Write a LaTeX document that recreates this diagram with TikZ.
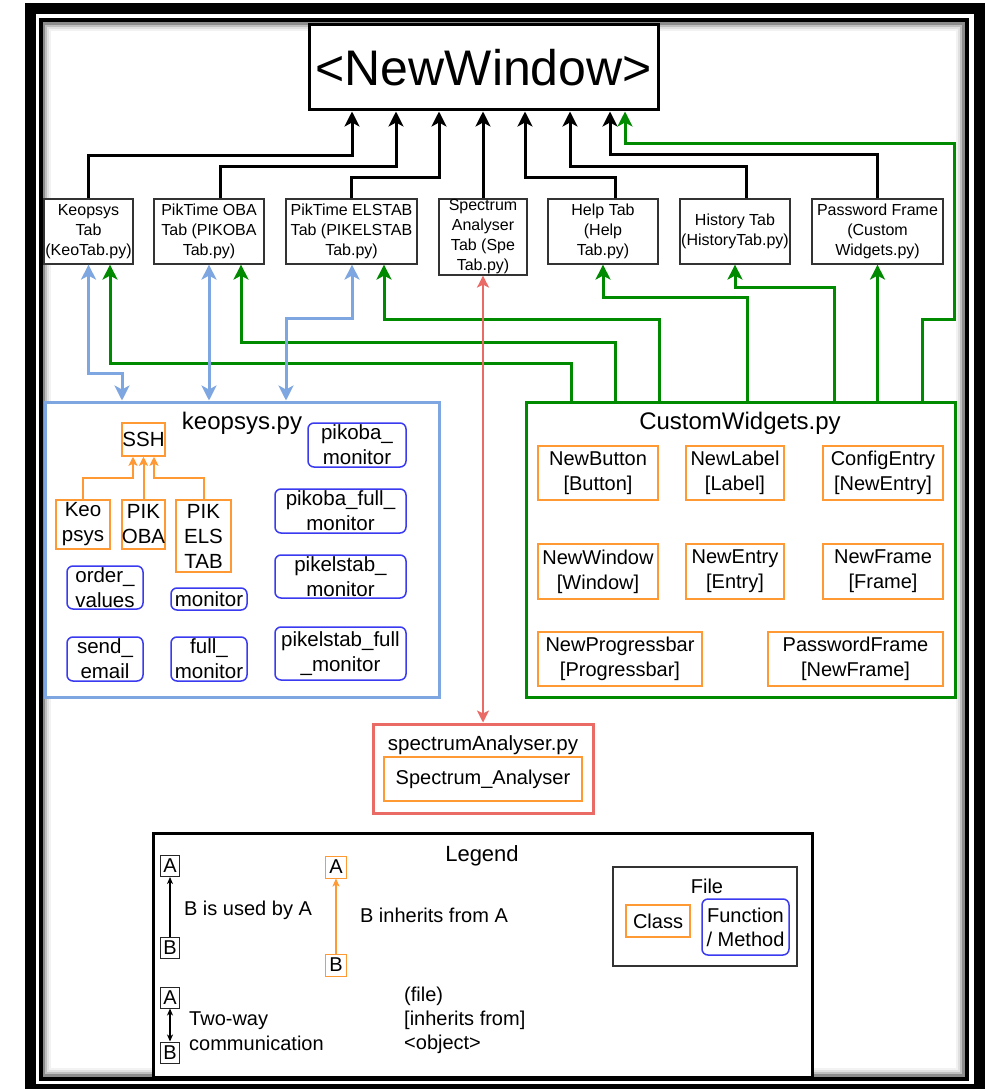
\documentclass[tikz,border=0pt]{standalone}
\usepackage{fontspec}
\setmainfont{Liberation Sans}
\usetikzlibrary{arrows.meta}
\definecolor{grnc}{HTML}{008A00}
\definecolor{bluc}{HTML}{7EA6E0}
\definecolor{redc}{HTML}{EA6B66}
\definecolor{orgc}{HTML}{FF9933}
\definecolor{fnc}{HTML}{3A3AF0}
\begin{document}
\begin{tikzpicture}[x=1pt,y=-1pt,
  tab/.style={draw=black!80, line width=1.2, fill=white, align=center, inner sep=0pt, font=\fontsize{16}{20}\selectfont},
  cls/.style={draw=orgc, line width=1.5, fill=white, align=center, inner sep=0pt, font=\fontsize{20.5}{25}\selectfont},
  fnb/.style={draw=fnc, line width=1.5, rounded corners=6pt, fill=white, align=center, inner sep=0pt, font=\fontsize{20.5}{25}\selectfont},
  cwc/.style={cls, font=\fontsize{20}{25}\selectfont},
  arrblk/.style={line width=3, draw=black, -{Stealth[length=15pt,width=15pt,inset=4pt]}},
  arrgrn/.style={line width=3, draw=grnc, -{Stealth[length=15pt,width=15pt,inset=4pt]}},
  arrblu/.style={line width=3, draw=bluc, {Stealth[length=15pt,width=15pt,inset=4pt]}-{Stealth[length=15pt,width=15pt,inset=4pt]}},
  arrred/.style={line width=2, draw=redc, {Stealth[length=12pt,width=12pt,inset=3pt]}-{Stealth[length=12pt,width=12pt,inset=3pt]}},
  arrorg/.style={line width=2, draw=orgc, -{Stealth[length=9pt,width=9pt,inset=2pt]}},
  arrthin/.style={line width=1.2, draw=black, -{Stealth[length=7pt,width=6pt,inset=2pt]}},
  lbl/.style={inner sep=0pt, font=\fontsize{20}{25}\selectfont},
  smallbox/.style={draw=black!85, line width=1, fill=white, inner sep=0pt, minimum width=19, minimum height=21, font=\fontsize{20}{24}\selectfont},
]
\useasboundingbox (0,0) rectangle (985,1089);
\fill[white] (0,0) rectangle (985,1089);
% frame
\draw[line width=11] (30,9) rectangle (979,1089.5);
\foreach \d/\c in {9.5/5,7.5/12,5.5/25,3.5/45}
  \draw[line width=2.2, black!\c] (40.5+\d,20+\d) rectangle (967-\d,1079-\d);
\draw[line width=4] (40.5,20) rectangle (967,1079);

% top window
\node[draw, line width=3, fill=white, minimum width=349.5, minimum height=85, inner sep=0pt, font=\fontsize{50}{60}\selectfont] (nw) at (483.75,67.5) {<NewWindow>};

% tabs
\node[tab, minimum width=89, minimum height=65] (keo) at (88.5,231.5) {Keopsys\\Tab\\(KeoTab.py)};
\node[tab, minimum width=110, minimum height=65] (oba) at (209,231.5) {PikTime OBA\\Tab (PIKOBA\\Tab.py)};
\node[tab, minimum width=131, minimum height=65] (els) at (351.5,231.5) {PikTime ELSTAB\\Tab (PIKELSTAB\\Tab.py)};
\node[tab, minimum width=88, minimum height=76] (spe) at (483,237) {Spectrum\\Analyser\\Tab (Spe\\Tab.py)};
\node[tab, minimum width=110, minimum height=65] (hlp) at (603,231.5) {Help Tab\\(Help\\Tab.py)};
\node[tab, minimum width=110, minimum height=65] (his) at (735,231.5) {History Tab\\(HistoryTab.py)};
\node[tab, minimum width=131, minimum height=65] (pwf) at (877.5,231.5) {Password Frame\\(Custom\\Widgets.py)};

% keopsys.py container
\node[draw=bluc, line width=3, fill=white, minimum width=394, minimum height=295, inner sep=0pt] (kp) at (242,549.5) {};
\node[inner sep=0pt, font=\fontsize{24}{28}\selectfont] (kpt) at (242,423) {keopsys.py};
\node[cls, minimum width=43, minimum height=33] (ssh) at (143.5,439.5) {SSH};
\node[cls, minimum width=54, minimum height=49] (keops) at (83,524.5) {Keo\\psys};
\node[cls, minimum width=43, minimum height=49] (pikoba) at (143.5,524.5) {PIK\\OBA};
\node[cls, minimum width=55, minimum height=72] (pikels) at (203.5,536) {PIK\\ELS\\TAB};
\node[fnb, minimum width=76, minimum height=43] (ordv) at (105,587.5) {order\_\\values};
\node[fnb, minimum width=76, minimum height=22] (mon) at (209,599) {monitor};
\node[fnb, minimum width=76, minimum height=44] (sem) at (105,659) {send\_\\email};
\node[fnb, minimum width=76, minimum height=44] (fmon) at (209,659) {full\_\\monitor};
\node[fnb, minimum width=98, minimum height=44] (pkm) at (357,445) {pikoba\_\\monitor};
\node[fnb, minimum width=131, minimum height=44] (pkfm) at (340.5,511) {pikoba\_full\_\\monitor};
\node[fnb, minimum width=131, minimum height=43] (pem) at (340.5,576.5) {pikelstab\_\\monitor};
\node[fnb, minimum width=131, minimum height=53] (pefm) at (340.5,653.5) {pikelstab\_full\\\_monitor};
\draw[arrorg] (keops.north) |- (133,478) -- (ssh.south -| 133,0);
\draw[arrorg] (pikoba.north) -- (ssh.south);
\draw[arrorg] (pikels.north) |- (154,478) -- (ssh.south -| 154,0);

% CustomWidgets container
\node[draw=grnc, line width=3, fill=white, minimum width=429, minimum height=295, inner sep=0pt] (cw) at (740.5,549.5) {};
\node[inner sep=0pt, font=\fontsize{24}{28}\selectfont] (cwt) at (740,423) {CustomWidgets.py};
\node[cwc, minimum width=120, minimum height=54] (nbtn) at (598,473) {NewButton\\{[Button]}};
\node[cwc, minimum width=98, minimum height=54] (nlbl) at (735,473) {NewLabel\\{[Label]}};
\node[cwc, minimum width=120, minimum height=54] (cfge) at (883,473) {ConfigEntry\\{[NewEntry]}};
\node[cwc, minimum width=120, minimum height=55] (nwin) at (598,571.5) {NewWindow\\{[Window]}};
\node[cwc, minimum width=98, minimum height=55] (nent) at (735,571.5) {NewEntry\\{[Entry]}};
\node[cwc, minimum width=120, minimum height=55] (nfrm) at (883,571.5) {NewFrame\\{[Frame]}};
\node[cwc, minimum width=164, minimum height=54] (nprg) at (620,659) {NewProgressbar\\{[Progressbar]}};
\node[cwc, minimum width=175, minimum height=54] (pwfr) at (855.5,659) {PasswordFrame\\{[NewFrame]}};

% spectrumAnalyser container
\node[draw=redc, line width=3, fill=white, minimum width=220, minimum height=89, inner sep=0pt] (spa) at (483,768.5) {};
\node[inner sep=0pt, font=\fontsize{20.5}{24}\selectfont] (spat) at (483,745) {spectrumAnalyser.py};
\node[cwc, minimum width=198, minimum height=44] (sac) at (483,779) {Spectrum\_Analyser};

% black connectors to NewWindow
\draw[arrblk] (keo.north) |- (352,155) -- (nw.south -| 352,0);
\draw[arrblk] (oba.north -| 220,0) |- (396,166) -- (nw.south -| 396,0);
\draw[arrblk] (els.north) |- (439,177) -- (nw.south -| 439,0);
\draw[arrblk] (spe.north) -- (nw.south -| 483,0);
\draw[arrblk] (hlp.north -| 615,0) |- (525,177) -- (nw.south -| 525,0);
\draw[arrblk] (his.north -| 746,0) |- (570,166) -- (nw.south -| 570,0);
\draw[arrblk] (pwf.north) |- (610,154) -- (nw.south -| 610,0);

% green connectors from CustomWidgets
\draw[arrgrn] (cw.north -| 571,0) |- (110,363) -- (keo.south -| 110,0);
\draw[arrgrn] (cw.north -| 615,0) |- (241,342) -- (oba.south -| 241,0);
\draw[arrgrn] (cw.north -| 659,0) |- (384,319) -- (els.south -| 384,0);
\draw[arrgrn] (cw.north -| 747,0) |- (603,297) -- (hlp.south);
\draw[arrgrn] (cw.north -| 834,0) |- (735,287) -- (his.south);
\draw[arrgrn] (cw.north -| 877.5,0) -- (pwf.south);
\draw[arrgrn] (cw.north -| 922,0) |- (954,319) |- (625,143) -- (nw.south -| 625,0);

% blue connectors keopsys.py <-> tabs
\draw[arrblu] (keo.south) |- (122,373) -- (kp.north -| 122,0);
\draw[arrblu] (oba.south) -- (kp.north -| 209,0);
\draw[arrblu] (els.south -| 352,0) |- (286,318) -- (kp.north -| 286,0);

% red connector
\draw[arrred] (spe.south) -- (spa.north);

% legend
\node[draw, line width=3, fill=white, minimum width=659, minimum height=244, inner sep=0pt] (lg) at (482.5,955) {};
\node[inner sep=0pt, font=\fontsize{22}{26}\selectfont] (lgt) at (482,856) {Legend};
\node[smallbox] (la1) at (170,866) {A};
\node[smallbox] (lb1) at (170,947.5) {B};
\draw[arrthin] (lb1) -- (la1);
\node[lbl] (lt1) at (248,910) {B is used by A};
\node[smallbox, draw=orgc, minimum width=21, minimum height=22] (la2) at (336,867) {A};
\node[smallbox, draw=orgc, minimum width=21, minimum height=22] (lb2) at (336,965) {B};
\draw[line width=2, draw=orgc, -{Stealth[length=8pt,width=7pt,inset=2pt]}] (lb2) -- (la2);
\node[lbl] (lt2) at (434,915) {B inherits from A};
\node[draw=black!80, line width=1.2, fill=white, minimum width=184, minimum height=99, inner sep=0pt] (file) at (705,916.5) {};
\node[lbl] (filet) at (707,886) {File};
\node[cls, font=\fontsize{20}{24}\selectfont, minimum width=64, minimum height=32] (lcls) at (658,921) {Class};
\node[fnb, font=\fontsize{20}{24}\selectfont, minimum width=87, minimum height=56] (lfn) at (745.5,927) {Function\\/ Method};
\node[smallbox] (la3) at (170,997.5) {A};
\node[smallbox] (lb3) at (170,1052.5) {B};
\draw[line width=1.2, {Stealth[length=7pt,width=6pt,inset=2pt]}-{Stealth[length=7pt,width=6pt,inset=2pt]}] (la3) -- (lb3);
\node[lbl, anchor=west, align=left] (lt3) at (189,1031.5) {Two-way\\communication};
\node[lbl, anchor=west, align=left, font=\fontsize{20}{24}\selectfont] (lt4) at (404,1020) {(file)\\{[inherits from]}\\<object>};
\end{tikzpicture}
\end{document}
